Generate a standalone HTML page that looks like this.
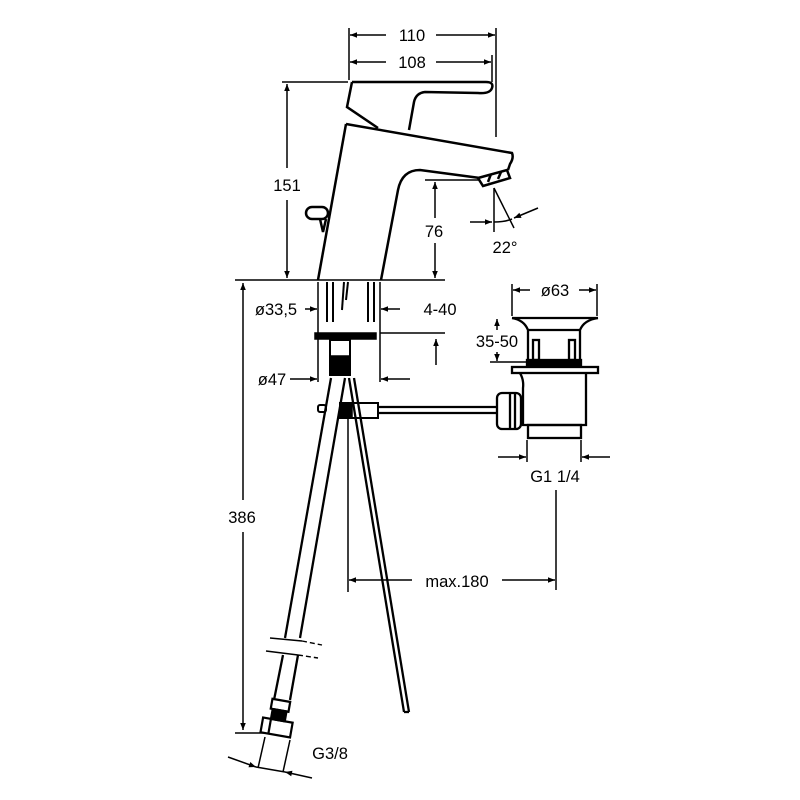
<!DOCTYPE html>
<html><head><style>body{margin:0;background:#fff}svg{display:block}text{font-family:"Liberation Sans",sans-serif;font-size:16.5px;fill:#000}</style></head>
<body>
<svg width="800" height="800" viewBox="0 0 800 800" xmlns="http://www.w3.org/2000/svg">
<defs>
<marker id="a" viewBox="0 0 10 10" refX="10" refY="5" markerWidth="10" markerHeight="7" orient="auto-start-reverse" markerUnits="userSpaceOnUse"><path d="M0,1 L10,5 L0,9z" fill="#000"/></marker>
</defs>
<g stroke="#000" fill="none" stroke-width="1.5">
<line x1="349" y1="28" x2="349" y2="80"/>
<line x1="496" y1="28" x2="496" y2="137"/>
<line x1="492" y1="55" x2="492" y2="82"/>
<line x1="350" y1="35" x2="386" y2="35" marker-start="url(#a)"/>
<line x1="436" y1="35" x2="495" y2="35" marker-end="url(#a)"/>
<line x1="350" y1="62" x2="386" y2="62" marker-start="url(#a)"/>
<line x1="436" y1="62" x2="491" y2="62" marker-end="url(#a)"/>
<line x1="282" y1="82" x2="348" y2="82"/>
<line x1="287" y1="84" x2="287" y2="168" marker-start="url(#a)"/>
<line x1="287" y1="200" x2="287" y2="278" marker-end="url(#a)"/>
<line x1="235" y1="280" x2="445" y2="280"/>
<g stroke-width="2.5">
<path d="M352,82 L486,82 Q494,82 492,88 Q490,94 478,93 L425,92 Q416,93 414,102 L409,130"/>
<path d="M352,82 L347,107 L378,128"/>
<path d="M346,124 L512,153 Q514,158 510,164 L508,170"/>
<path d="M346,124 L318,280"/>
<path d="M480,178 L420,170 Q402,170 398,190 L381,280"/>
<path d="M478,178 L507,170 L510,178 L483,186 Z"/>
<line x1="488" y1="182" x2="491" y2="174"/><line x1="498" y1="179" x2="501" y2="172"/>
<rect x="306" y="207" width="22" height="12" rx="6"/>
<path d="M320,219 L323,232 L326,219"/>
</g>
<line x1="425" y1="180" x2="480" y2="180"/>
<line x1="435" y1="182" x2="435" y2="218" marker-start="url(#a)"/>
<line x1="435" y1="243" x2="435" y2="278" marker-end="url(#a)"/>
<line x1="494" y1="188" x2="494" y2="232"/>
<line x1="494" y1="188" x2="514" y2="228"/>
<line x1="470" y1="222" x2="492" y2="222" marker-end="url(#a)"/>
<path d="M494,222 Q505,222 512,219"/>
<line x1="538" y1="208" x2="514" y2="218" marker-end="url(#a)"/>
<line x1="318" y1="282" x2="318" y2="382"/>
<line x1="380" y1="282" x2="380" y2="382"/>
<g stroke-width="2">
<line x1="327" y1="282" x2="327" y2="322"/>
<line x1="333" y1="282" x2="333" y2="322"/>
<line x1="344" y1="282" x2="342" y2="310"/>
<line x1="348" y1="282" x2="346" y2="300"/>
<line x1="368" y1="282" x2="368" y2="322"/>
<line x1="374" y1="282" x2="374" y2="322"/>
</g>
<line x1="305" y1="309" x2="317" y2="309" marker-end="url(#a)"/>
<line x1="400" y1="309" x2="381" y2="309" marker-end="url(#a)"/>
<rect x="315" y="333" width="61" height="6" fill="#000"/>
<rect x="330" y="340" width="20" height="35" stroke-width="2"/>
<rect x="330" y="356" width="20" height="19" fill="#000"/>
<line x1="380" y1="333" x2="445" y2="333"/>
<line x1="436" y1="365" x2="436" y2="339" marker-end="url(#a)"/>
<line x1="290" y1="379" x2="317" y2="379" marker-end="url(#a)"/>
<line x1="410" y1="379" x2="381" y2="379" marker-end="url(#a)"/>
<line x1="243" y1="283" x2="243" y2="500" marker-start="url(#a)"/>
<line x1="243" y1="532" x2="243" y2="730" marker-end="url(#a)"/>
<line x1="235" y1="733" x2="264" y2="733"/>
<g stroke-width="2.3">
<line x1="331" y1="378" x2="285" y2="638"/>
<line x1="345" y1="378" x2="300" y2="638"/>
<line x1="283" y1="655" x2="274" y2="700"/>
<line x1="298" y1="655" x2="290" y2="700"/>
<line x1="349" y1="378" x2="404" y2="712"/>
<line x1="354" y1="378" x2="409" y2="712"/>
<line x1="404" y1="712" x2="409" y2="712"/>
</g>
<g stroke-width="1.4">
<line x1="270" y1="638" x2="302" y2="641" /><line x1="302" y1="641" x2="322" y2="645" stroke-dasharray="5,3"/>
<line x1="266" y1="651" x2="298" y2="655"/><line x1="298" y1="655" x2="318" y2="658" stroke-dasharray="5,3"/>
</g>
<g stroke-width="2.2" transform="rotate(10 277 725)">
<rect x="268" y="700" width="18" height="10"/>
<rect x="270" y="710" width="14" height="10" fill="#000"/>
<rect x="262" y="720" width="30" height="15"/>
<line x1="270" y1="720" x2="270" y2="735"/>
</g>
<line x1="265" y1="737" x2="258" y2="768"/>
<line x1="290" y1="740" x2="283" y2="772"/>
<line x1="228" y1="757" x2="256" y2="767" marker-end="url(#a)"/>
<line x1="312" y1="778" x2="285" y2="772" marker-end="url(#a)"/>
<line x1="256" y1="767" x2="285" y2="772"/>
<rect x="318" y="405" width="8" height="7" rx="2" stroke-width="2"/>
<rect x="340" y="403" width="38" height="15" stroke-width="2"/>
<rect x="340" y="403" width="12" height="15" fill="#000"/>
<line x1="378" y1="407" x2="497" y2="407" stroke-width="2.2"/>
<line x1="378" y1="413" x2="497" y2="413" stroke-width="2.2"/>
<line x1="348" y1="418" x2="348" y2="592"/>
<g stroke-width="2.3">
<line x1="512" y1="318" x2="598" y2="318"/>
<path d="M512,318 Q524,320 528,330 L528,362 M598,318 Q584,320 580,330 L580,362"/>
<line x1="528" y1="330" x2="580" y2="330"/>
<rect x="533" y="340" width="6" height="20"/><rect x="569" y="340" width="6" height="20"/>
<rect x="527" y="360" width="54" height="5" fill="#000"/>
<rect x="512" y="367" width="86" height="6"/>
<path d="M520,373 Q524,380 523,388 L523,425 L586,425 L586,373"/>
<rect x="528" y="425" width="53" height="13"/>
<rect x="497" y="393" width="24" height="36" rx="5"/>
<line x1="510" y1="394" x2="510" y2="428"/><line x1="515" y1="394" x2="515" y2="428"/>
</g>
<line x1="512" y1="284" x2="512" y2="316"/>
<line x1="597" y1="284" x2="597" y2="316"/>
<line x1="530" y1="290" x2="513" y2="290" marker-end="url(#a)"/>
<line x1="579" y1="290" x2="596" y2="290" marker-end="url(#a)"/>
<line x1="497" y1="330" x2="497" y2="319" marker-end="url(#a)"/>
<line x1="497" y1="352" x2="497" y2="361" marker-end="url(#a)"/>
<line x1="490" y1="362" x2="527" y2="362"/>
<line x1="527" y1="440" x2="527" y2="462"/>
<line x1="581" y1="440" x2="581" y2="462"/>
<line x1="498" y1="457" x2="526" y2="457" marker-end="url(#a)"/>
<line x1="610" y1="457" x2="582" y2="457" marker-end="url(#a)"/>
<line x1="556" y1="490" x2="556" y2="590"/>
<line x1="412" y1="580" x2="349" y2="580" marker-end="url(#a)"/>
<line x1="502" y1="580" x2="555" y2="580" marker-end="url(#a)"/>
</g>
<text x="412" y="41" text-anchor="middle">110</text>
<text x="412" y="68" text-anchor="middle">108</text>
<text x="287" y="191" text-anchor="middle">151</text>
<text x="434" y="237" text-anchor="middle">76</text>
<text x="505" y="253" text-anchor="middle">22°</text>
<text x="276" y="315" text-anchor="middle">ø33,5</text>
<text x="440" y="315" text-anchor="middle">4-40</text>
<text x="272" y="385" text-anchor="middle">ø47</text>
<text x="242" y="523" text-anchor="middle">386</text>
<text x="555" y="296" text-anchor="middle">ø63</text>
<text x="497" y="347" text-anchor="middle">35-50</text>
<text x="555" y="482" text-anchor="middle">G1 1/4</text>
<text x="457" y="587" text-anchor="middle">max.180</text>
<text x="330" y="759" text-anchor="middle">G3/8</text>
</svg>
</body></html>
